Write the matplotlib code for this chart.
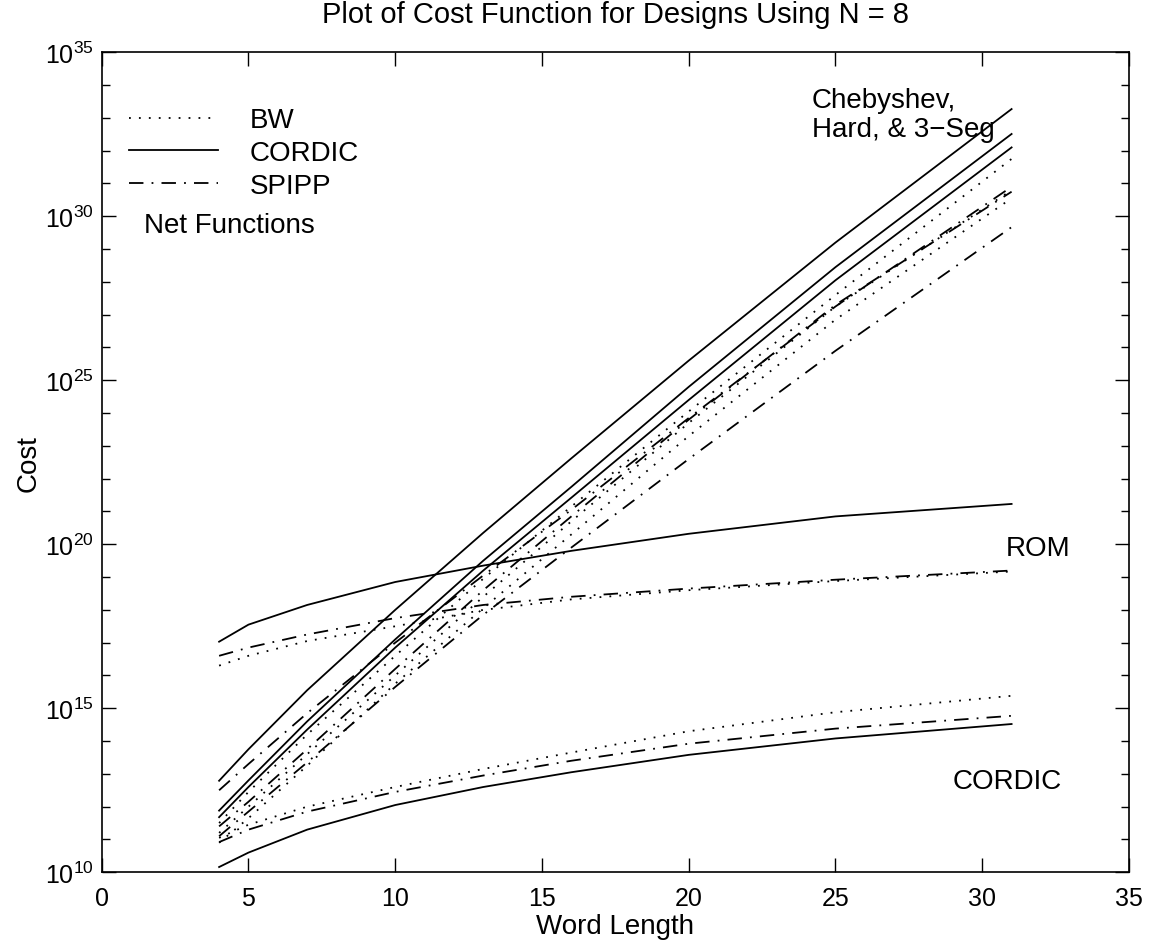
import numpy as np
import matplotlib.pyplot as plt
from matplotlib.lines import Line2D
from matplotlib.ticker import NullFormatter

plt.rcParams['font.family'] = ['Liberation Sans', 'DejaVu Sans']
plt.rcParams['mathtext.fontset'] = 'custom'
plt.rcParams['mathtext.rm'] = 'Liberation Sans'
plt.rcParams['mathtext.it'] = 'Liberation Sans:italic'
plt.rcParams['mathtext.bf'] = 'Liberation Sans:bold'

word_len = [4, 5, 7, 10, 13, 16, 20, 25, 31]

# log10(cost) for each curve
# ROM designs
rom_cordic = [17.03, 17.55, 18.15, 18.85, 19.35, 19.80, 20.32, 20.85, 21.23]
rom_spipp = [16.60, 16.85, 17.25, 17.75, 18.15, 18.40, 18.65, 18.92, 19.20]
rom_bw = [16.30, 16.60, 17.05, 17.50, 18.00, 18.32, 18.60, 18.88, 19.17]

# CORDIC designs
cor_cordic = [10.16, 10.60, 11.30, 12.05, 12.60, 13.05, 13.58, 14.08, 14.52]
cor_spipp = [10.92, 11.30, 11.85, 12.45, 12.95, 13.40, 13.92, 14.38, 14.77]
cor_bw = [11.05, 11.45, 12.00, 12.60, 13.15, 13.65, 14.30, 14.88, 15.38]

# Chebyshev, Hard and 3-Seg designs
cheb_cordic_1 = [12.79, 13.75, 15.55, 18.00, 20.35, 22.62, 25.60, 29.20, 33.27]
cheb_cordic_2 = [11.88, 12.80, 14.60, 17.10, 19.50, 21.75, 24.80, 28.45, 32.51]
cheb_cordic_3 = [11.68, 12.60, 14.35, 16.85, 19.20, 21.42, 24.40, 28.05, 32.10]
cheb_bw_1 = [11.50, 12.45, 14.20, 16.60, 18.95, 21.15, 24.05, 27.60, 31.75]
cheb_bw_2 = [11.20, 12.00, 13.60, 16.00, 18.40, 20.70, 23.70, 27.25, 30.80]
cheb_bw_3 = [10.90, 11.65, 13.25, 15.75, 18.05, 20.30, 23.30, 26.85, 30.55]
cheb_spipp_1 = [12.50, 13.30, 14.85, 17.00, 19.05, 21.05, 23.85, 27.25, 30.90]
cheb_spipp_2 = [11.40, 12.15, 13.75, 16.20, 18.60, 20.85, 23.80, 27.30, 30.75]
cheb_spipp_3 = [11.10, 11.85, 13.35, 15.65, 17.85, 19.90, 22.60, 25.90, 29.67]

styles = {'BW': (0, (1, 4.5)), 'CORDIC': '-', 'SPIPP': (0, (8, 4.5, 1, 4.5))}

curves = [
    (rom_cordic, 'CORDIC'), (rom_spipp, 'SPIPP'), (rom_bw, 'BW'),
    (cor_cordic, 'CORDIC'), (cor_spipp, 'SPIPP'), (cor_bw, 'BW'),
    (cheb_cordic_1, 'CORDIC'), (cheb_cordic_2, 'CORDIC'), (cheb_cordic_3, 'CORDIC'),
    (cheb_bw_1, 'BW'), (cheb_bw_2, 'BW'), (cheb_bw_3, 'BW'),
    (cheb_spipp_1, 'SPIPP'), (cheb_spipp_2, 'SPIPP'), (cheb_spipp_3, 'SPIPP'),
]

fig = plt.figure(figsize=(11.57, 9.45), dpi=100)
ax = fig.add_axes([0.0879, 0.0759, 0.8879, 0.8677])

x = np.array(word_len)
for vals, kind in curves:
    ax.plot(x, 10.0 ** np.array(vals), color='black', lw=1.3, linestyle=styles[kind])

ax.set_yscale('log')
ax.set_xlim(0, 35)
ax.set_ylim(1e10, 1e35)
ax.set_xticks(np.arange(0, 36, 5))
ax.set_yticks([10.0 ** k for k in range(10, 36, 5)])
ax.set_yticks([10.0 ** k for k in range(10, 36)], minor=True)
ax.yaxis.set_minor_formatter(NullFormatter())
ax.tick_params(axis='both', which='both', direction='in', top=True, right=True,
               labelsize=18, width=1)
ax.tick_params(axis='x', which='major', length=10, pad=10)
ax.tick_params(axis='y', which='major', length=10, pad=6)
ax.tick_params(axis='y', which='minor', length=6)
for sp in ax.spines.values():
    sp.set_linewidth(1.2)

ax.set_xlabel('Word Length', fontsize=20, labelpad=2)
ax.set_ylabel('Cost', fontsize=20, labelpad=2)
ax.set_title('Plot of Cost Function for Designs Using N = 8', fontsize=21, pad=22)

handles = [Line2D([], [], color='black', lw=1.3, linestyle=styles[k]) for k in ['BW', 'CORDIC', 'SPIPP']]
ax.legend(handles, ['BW', 'CORDIC', 'SPIPP'], loc='upper left', frameon=False, fontsize=20,
          handlelength=3.2, handletextpad=1.15, labelspacing=0.24,
          borderpad=0, borderaxespad=0, bbox_to_anchor=(0.0266, 0.933))

ax.text(1.45, 10 ** 29.73, 'Net Functions', fontsize=20, va='center')
ax.text(24.2, 10 ** 33.1, 'Chebyshev,\nHard, & 3\u2212Seg', fontsize=20, va='center',
        linespacing=1.15)
ax.text(30.8, 10 ** 19.9, 'ROM', fontsize=20, va='center')
ax.text(29.0, 10 ** 12.78, 'CORDIC', fontsize=20, va='center')

fig.savefig('out.png', dpi=100)
